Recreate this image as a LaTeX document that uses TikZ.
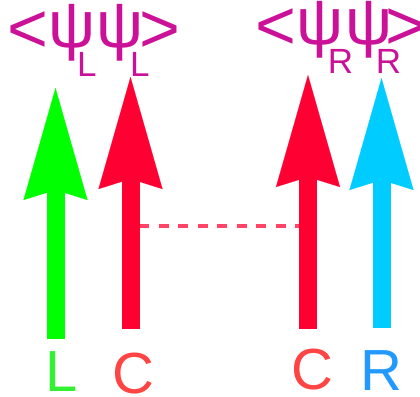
\documentclass[tikz,border=0pt]{standalone}
\usepackage{fontspec}
\setmainfont{Liberation Sans}
\usetikzlibrary{arrows.meta}

\definecolor{spinL}{HTML}{00FF00}
\definecolor{spinC}{HTML}{FF0033}
\definecolor{spinR}{HTML}{00CCFF}
\definecolor{linkC}{HTML}{FF4466}
\definecolor{textL}{HTML}{33F033}
\definecolor{textC}{HTML}{FF4444}
\definecolor{textR}{HTML}{2299FF}
\definecolor{corr}{HTML}{CC1199}

\tikzset{
  spin/.style={line width=18pt,
    -{Stealth[length=112pt,width=64pt,inset=10pt,line width=0.1pt]}},
  site/.style={inner sep=0pt, anchor=base west,
    font=\fontsize{58}{58}\selectfont},
  corrlabel/.style={inner sep=0pt, anchor=base west, text=corr},
  bond/.style={linkC, line width=3.5pt, dash pattern=on 10pt off 9.5pt}
}
% one glyph of a correlator: x offset, raise, font size, text
\newcommand\glyphat[4]{\makebox[0pt][l]{\hspace*{#1pt}\raisebox{#2pt}{\fontsize{#3}{#3}\selectfont #4}}}

\begin{document}
\begin{tikzpicture}[x=1pt,y=-1pt]
\useasboundingbox (0,0) rectangle (420,396);

% shaft ends of the four spins
\coordinate (Lb) at (55.5,339);  \coordinate (Lt) at (55.5,88);
\coordinate (C1b) at (130.5,329); \coordinate (C1t) at (130.5,77);
\coordinate (C2b) at (308,329);  \coordinate (C2t) at (308,75);
\coordinate (Rb) at (381.5,328); \coordinate (Rt) at (381.5,78);

% coupling between the two central spins
\coordinate (bondA) at (139,226);
\coordinate (bondB) at (299,226);
\draw[bond] (bondA) -- (bondB);

\draw[spin, spinL] (Lb) -- (Lt);
\draw[spin, spinC] (C1b) -- (C1t);
\draw[spin, spinC] (C2b) -- (C2t);
\draw[spin, spinR] (Rb) -- (Rt);

% site labels
\node[site, text=textL] (labL) at (45,391) {L};
\node[site, text=textC] (labC1) at (112,393) {C};
\node[site, text=textC] (labC2) at (291,389) {C};
\node[site, text=textR] (labR) at (360,390) {R};

% correlators
\node[corrlabel] (corrL) at (6.6,48) {%
  \glyphat{0}{-5}{70}{<}%
  \glyphat{40.8}{0}{66}{ψ}%
  \glyphat{69.8}{-29}{35}{L}%
  \glyphat{88.8}{0}{66}{ψ}%
  \glyphat{122.8}{-29}{35}{L}%
  \glyphat{132}{-5}{70}{>}};
\node[corrlabel] (corrR) at (254.6,45) {%
  \glyphat{0}{-5}{70}{<}%
  \glyphat{40.8}{0}{66}{ψ}%
  \glyphat{72.6}{-29}{35}{R}%
  \glyphat{89.8}{0}{66}{ψ}%
  \glyphat{120.6}{-29}{35}{R}%
  \glyphat{130}{-5}{70}{>}};
\end{tikzpicture}
\end{document}
